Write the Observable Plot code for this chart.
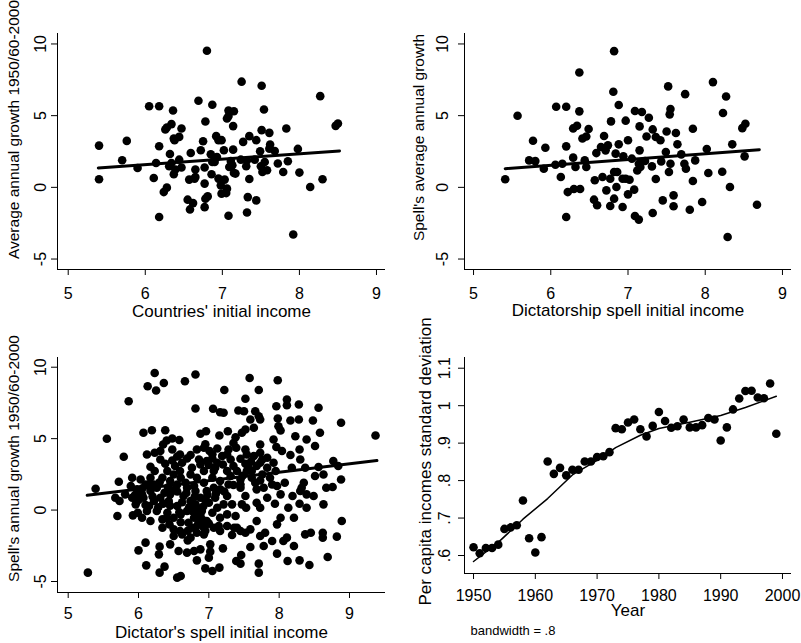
<!DOCTYPE html>
<html>
<head>
<meta charset="utf-8">
<script src="https://cdn.jsdelivr.net/npm/d3@7"></script>
<script src="https://cdn.jsdelivr.net/npm/@observablehq/plot@0.6"></script>
<style>
  body { margin: 0; background: #fff; }
  #chart { position: relative; width: 801px; height: 643px; background: #fff; overflow: hidden; }
  #chart svg { position: absolute; }
</style>
</head>
<body>
<div id="chart"></div>
<script>
const FONT = "'Liberation Sans', Arial, Helvetica, sans-serif";

// Countries: initial income (log) vs average annual growth
const countryPoints = [
  [6.80,9.53],[7.25,7.37],[7.51,7.09],[8.27,6.36],[6.05,5.66],[6.18,5.66],[6.36,5.36],[6.69,6.04],[6.87,5.76],[7.08,5.36],
  [7.15,5.31],[7.08,4.97],[7.54,5.43],[6.78,4.59],[7.14,4.27],[6.28,4.17],[6.34,4.41],[6.47,4.10],[7.51,3.99],[7.61,3.80],
  [7.83,4.10],[8.47,4.29],[8.50,4.45],[5.40,2.91],[5.76,3.24],[6.18,2.87],[6.38,3.29],[6.44,3.52],[6.75,3.22],[6.92,3.57],
  [6.99,3.29],[7.27,3.17],[7.35,3.57],[7.44,3.29],[7.62,2.98],[6.32,2.33],[6.59,2.40],[6.72,2.59],[6.85,2.31],[7.02,2.59],
  [7.14,2.63],[7.49,2.52],[7.68,2.54],[7.98,2.68],[5.70,1.89],[5.90,1.35],[6.14,1.70],[6.31,1.47],[6.44,1.93],[6.39,1.24],
  [6.37,0.91],[6.65,1.24],[6.77,1.38],[6.93,2.12],[6.90,1.77],[7.11,1.84],[7.09,1.42],[7.15,1.00],[7.31,1.47],[7.42,1.93],
  [7.55,1.77],[7.52,1.07],[7.58,1.19],[7.72,1.66],[7.79,1.07],[7.85,1.82],[8.00,1.03],[5.40,0.56],[6.11,0.65],[6.57,0.54],
  [6.65,0.72],[6.86,0.91],[6.95,0.61],[7.03,0.54],[6.77,0.26],[7.17,0.96],[7.35,0.58],[8.30,0.56],[8.14,0.02],[6.28,-0.02],
  [6.24,-0.33],[7.06,-0.09],[6.99,-0.44],[6.55,-0.86],[6.62,-1.10],[6.58,-1.54],[6.78,-0.79],[6.77,-1.38],[7.33,-0.68],[7.44,-0.91],
  [6.18,-2.07],[7.08,-1.98],[7.32,-1.75],[7.92,-3.29],[6.34,1.70],[6.47,1.38],[6.87,1.77],[7.13,1.54],[7.24,1.93],[7.50,1.47],
  [7.32,1.89],[6.98,0.14],[6.26,4.03],[6.37,3.40],[6.64,0.61],[7.05,-0.40],[6.81,-0.63],[7.61,2.70],[7.06,4.80],[6.95,3.29]
];
const countryFitX = [5.39, 8.52];
const countryFitY = [1.35, 2.54];

// Dictatorship spells: initial income vs spell's average annual growth
const spellPoints = [
  [6.82,9.50],[6.37,8.01],[6.81,6.67],[6.88,5.74],[7.52,7.04],[8.10,7.34],[8.27,6.34],[7.74,6.50],[5.57,4.99],[6.07,5.62],
  [6.20,5.62],[6.37,5.30],[6.78,4.60],[6.97,4.65],[7.09,5.32],[7.18,5.25],[7.27,4.85],[7.55,5.46],[7.54,5.09],[8.23,5.18],
  [6.29,4.11],[6.34,4.30],[6.49,4.07],[6.41,3.41],[6.46,3.55],[6.69,3.58],[7.15,4.25],[7.32,4.04],[7.24,3.55],[7.36,3.51],
  [7.42,3.28],[7.50,3.90],[7.62,3.79],[7.84,4.09],[8.48,4.13],[8.52,4.44],[5.77,3.25],[5.93,2.76],[6.20,2.86],[6.74,2.93],
  [6.88,3.00],[7.00,3.28],[8.35,3.00],[7.64,3.00],[5.72,1.88],[5.91,1.30],[6.06,1.58],[6.15,1.65],[6.29,2.07],[6.32,1.42],
  [6.44,1.88],[6.46,1.42],[6.59,2.39],[6.71,2.58],[6.84,2.35],[6.94,2.16],[7.05,2.00],[7.15,2.58],[7.14,1.65],[7.12,1.18],
  [7.31,1.46],[7.43,1.81],[7.49,2.46],[7.55,1.65],[7.53,1.07],[7.69,2.30],[7.73,1.65],[7.75,1.30],[7.87,1.88],[8.02,2.67],
  [8.04,1.00],[8.22,1.09],[8.51,2.16],[5.41,0.56],[6.13,0.72],[6.57,0.49],[6.67,0.72],[6.77,0.60],[6.86,1.07],[6.93,0.60],
  [7.02,0.53],[7.36,0.58],[7.84,0.44],[6.72,-0.21],[6.85,0.02],[7.08,-0.16],[6.22,-0.33],[6.30,-0.12],[6.38,-0.12],[7.00,-0.49],
  [7.59,-0.56],[6.56,-0.86],[6.60,-1.25],[6.77,-1.30],[6.82,-0.79],[6.93,-1.37],[7.45,-0.91],[7.59,-1.32],[7.96,-1.02],[7.80,-1.56],
  [8.67,-1.21],[6.20,-2.07],[7.09,-2.00],[7.14,-2.25],[7.32,-1.79],[8.29,-3.46],[8.32,0.02],[7.22,1.84],[6.97,0.60],[7.16,1.42],
  [6.65,2.81],[6.82,1.07],[5.80,1.83]
];
const spellFitX = [5.41, 8.70];
const spellFitY = [1.30, 2.63];

// Individual dictators' spells: initial income vs annual growth
const dictatorPoints = [
  [6.23,9.60],[6.81,9.49],[6.13,8.67],[6.25,8.37],[6.36,8.90],[6.66,9.02],[7.58,9.25],[7.98,9.09],[7.22,8.41],[7.71,8.41],
  [5.86,7.62],[7.52,7.79],[8.11,7.74],[8.11,7.34],[7.96,7.27],[8.28,7.39],[8.56,7.16],[6.81,7.11],[7.06,7.09],[7.16,6.85],
  [7.21,6.81],[7.42,6.97],[7.50,6.92],[7.66,6.92],[7.71,6.57],[7.73,6.34],[7.59,6.34],[7.98,6.41],[8.16,6.27],[8.28,6.34],
  [8.48,6.27],[8.88,6.11],[7.99,5.87],[8.02,5.57],[7.52,5.64],[7.64,5.76],[7.47,5.41],[8.58,5.41],[8.23,5.17],[6.07,5.41],
  [6.19,5.59],[6.38,5.59],[5.55,4.99],[6.88,5.34],[6.96,5.52],[7.15,5.22],[7.27,5.52],[7.38,5.10],[6.48,5.01],[6.58,4.90],
  [6.40,4.87],[6.35,4.59],[7.92,4.94],[8.39,4.94],[8.51,4.48],[7.73,4.59],[7.96,4.41],[9.37,5.22],[6.12,3.89],[6.23,4.01],
  [6.31,4.13],[6.48,4.24],[6.83,4.24],[6.93,4.36],[7.01,4.13],[7.12,4.31],[7.28,4.24],[7.39,4.36],[7.52,4.24],[7.73,4.01],
  [8.04,4.13],[8.16,3.85],[8.29,4.24],[5.79,3.73],[6.69,3.61],[6.86,3.54],[7.05,3.61],[7.19,3.78],[7.31,3.54],[7.45,3.59],
  [7.64,3.78],[7.76,3.54],[8.30,3.54],[6.48,3.47],[6.17,3.03],[6.23,2.73],[6.38,3.24],[6.52,3.08],[6.59,2.73],[6.76,2.96],
  [6.88,3.19],[7.00,3.15],[7.09,2.96],[7.20,3.19],[7.35,3.08],[7.52,3.24],[7.68,3.08],[7.83,2.96],[7.95,2.73],[8.18,2.96],
  [8.37,2.96],[8.56,3.01],[8.77,3.43],[8.84,3.08],[8.63,2.49],[8.51,2.38],[8.88,2.14],[5.91,2.26],[6.03,2.14],[6.10,1.79],
  [5.72,1.98],[5.39,1.49],[6.34,2.26],[6.45,2.03],[6.60,2.26],[6.74,2.49],[6.83,2.26],[6.93,1.91],[7.05,2.26],[7.16,2.03],
  [7.31,2.38],[7.45,2.14],[7.45,1.79],[7.61,2.26],[7.73,2.07],[7.87,2.26],[7.90,1.79],[8.08,1.91],[8.35,1.91],[8.67,1.56],
  [8.76,1.61],[8.32,1.56],[5.89,1.68],[5.73,0.63],[5.70,-0.42],[5.91,0.86],[5.92,-0.37],[5.99,-0.19],[6.05,1.10],[6.15,0.28],
  [6.17,1.33],[6.26,1.56],[6.31,0.86],[6.37,1.21],[6.43,0.63],[6.52,1.45],[6.55,0.28],[6.64,0.98],[6.69,1.56],[6.74,0.63],
  [6.81,1.33],[6.83,0.16],[6.88,0.86],[6.97,1.33],[7.00,0.51],[7.09,0.86],[7.16,1.45],[7.26,0.98],[7.33,0.40],[7.45,1.56],
  [7.52,0.98],[7.53,0.16],[7.68,1.45],[7.68,0.51],[7.73,0.16],[7.83,0.86],[7.94,0.44],[8.02,1.10],[8.13,0.16],[8.19,0.98],
  [8.29,0.44],[8.30,1.33],[8.63,0.40],[6.34,-0.65],[6.44,-1.00],[6.50,-1.35],[6.59,-1.47],[6.71,-0.89],[6.83,-0.42],[6.83,-1.59],
  [6.88,-1.00],[6.97,-0.77],[7.14,-1.12],[7.26,-1.12],[7.40,-1.24],[7.45,-1.47],[7.33,-1.75],[7.59,-1.35],[7.68,-0.77],[7.80,-1.59],
  [7.97,-1.00],[7.90,-2.17],[8.11,-1.93],[8.06,-2.17],[8.45,-1.59],[8.62,-1.59],[8.62,-1.93],[8.82,-1.86],[8.89,-0.77],[6.70,-2.12],
  [6.10,-2.28],[6.00,-2.82],[6.30,-2.56],[6.29,-3.10],[6.45,-2.40],[6.57,-2.87],[6.69,-2.98],[6.79,-2.87],[6.88,-2.75],[7.02,-2.40],
  [7.02,-2.91],[7.20,-2.68],[7.59,-2.59],[6.83,-3.52],[7.00,-3.33],[7.39,-3.57],[7.46,-3.15],[7.97,-3.05],[8.12,-3.57],[8.29,-3.52],
  [8.43,-3.85],[8.69,-3.29],[7.71,-3.75],[7.71,-4.38],[6.11,-3.87],[6.30,-4.38],[6.37,-3.96],[6.55,-4.73],[6.60,-4.62],[6.95,-4.08],
  [7.05,-4.27],[7.15,-4.03],[7.45,-3.75],[5.28,-4.38],[6.76,-0.07],[6.79,-0.54],[6.86,-0.89],[6.90,-0.07],[6.93,-1.24],[6.76,-1.24],
  [6.81,0.40],[6.69,-0.07],[6.60,-0.30],[7.05,-0.19],[7.12,0.16],[7.21,0.40],[7.26,-0.30],[7.38,-0.42],[7.47,0.40],[7.16,-0.54],
  [6.45,1.10],[6.22,0.63],[6.12,-0.07],[6.26,-0.07],[6.41,-0.19],[6.50,-0.54],[6.07,0.86],[5.98,1.45],[7.07,1.56],[7.07,2.73],
  [6.93,2.73],[7.26,2.73],[7.40,2.73],[7.54,2.73],[7.61,2.73],[7.76,2.49],[7.66,1.91],[7.78,1.56],[7.97,1.68],[7.28,1.79],
  [6.55,1.79],[6.67,1.91],[6.79,1.68],[6.97,3.43],[7.12,3.31],[7.26,3.89],[7.54,3.89],[7.73,3.31],[7.83,3.66],[7.92,3.31],
  [6.59,3.89],[6.62,3.31],[6.31,3.54],[6.41,2.73],[6.50,2.49],[6.17,2.26],[6.22,1.79],[5.81,1.10],[5.67,0.86],[5.96,0.40],
  [6.05,-0.54],[6.17,-0.77],[6.34,-1.24],[6.50,-1.82],[6.62,-1.70],[6.74,-1.93],[6.93,-1.70],[7.07,-1.24],[7.16,-1.47],[7.36,-1.24],
  [7.52,-1.59],[7.73,-1.82],[8.21,-2.52],[8.37,-1.70],[7.78,-2.52],[8.02,-0.54],[8.21,-0.54],[8.39,0.16],[8.49,0.98],[8.39,1.10],
  [6.85,0.05],[6.88,-0.35],[6.90,-0.65],[6.84,-1.05],[6.92,0.25],[6.95,0.70],[6.80,0.95],[6.72,0.20],[6.62,0.55],[6.58,-0.15],
  [6.45,0.30],[6.35,0.45],[6.28,0.20],[6.20,0.95],[6.10,0.35],[6.00,0.70],[5.95,1.05],[6.05,1.50],[6.15,1.80],[6.30,1.95],
  [6.42,1.60],[6.55,1.30],[6.68,1.20],[6.98,1.05],[7.10,1.15],[7.22,1.30],[7.35,1.75],[7.48,2.40],[7.56,3.05],[7.60,3.40],
  [7.05,3.90],[6.95,4.60],[7.35,4.70],[6.74,3.85],[6.55,3.75],[6.70,-1.45],[6.95,-1.45],[7.00,-0.95],[6.60,-0.85],[6.40,-0.55]
];
const dictatorFitX = [5.27, 9.39];
const dictatorFitY = [1.03, 3.47];

// Cross-country dispersion of per capita incomes by year
const years = [
  1950,1951,1952,1953,1954,1955,1956,1957,1958,1959,
  1960,1961,1962,1963,1964,1965,1966,1967,1968,1969,
  1970,1971,1972,1973,1974,1975,1976,1977,1978,1979,
  1980,1981,1982,1983,1984,1985,1986,1987,1988,1989,
  1990,1991,1992,1993,1994,1995,1996,1997,1998,1999
];
const incomeSD = [
  0.622,0.606,0.620,0.620,0.629,0.671,0.675,0.681,0.747,0.646,
  0.608,0.649,0.851,0.818,0.834,0.814,0.829,0.829,0.851,0.851,
  0.863,0.865,0.876,0.940,0.937,0.955,0.963,0.937,0.918,0.946,
  0.983,0.959,0.941,0.945,0.963,0.942,0.942,0.948,0.967,0.963,
  0.907,0.942,0.990,1.019,1.039,1.040,1.022,1.020,1.059,0.925
];
// Lowess smooth (bandwidth .8)
const lowessYears = [1950,1954,1958,1962,1966,1970,1973,1977,1980,1985,1990,1994,1999];
const lowessSD    = [0.584,0.635,0.697,0.752,0.815,0.854,0.888,0.921,0.939,0.956,0.974,0.995,1.025];

// Ticks
const growthTicks = [-5, 0, 5, 10];
const growthTickLabels = ["-5", "0", "5", "10"];
const incomeTicks = [5, 6, 7, 8, 9];
const incomeTickLabels = ["5", "6", "7", "8", "9"];
const yearTicks = [1950, 1960, 1970, 1980, 1990, 2000];
const yearTickLabels = ["1950", "1960", "1970", "1980", "1990", "2000"];
const sdTicks = [0.6, 0.7, 0.8, 0.9, 1.0, 1.1];
const sdTickLabels = [".6", ".7", ".8", ".9", "1", "1.1"];

function panel(o) {
  const [mt, mr, mb, ml] = o.margin;
  const marks = [
    ...o.marks,
    Plot.ruleX([o.xDomain[0]], {stroke: "black", strokeWidth: 1}),
    Plot.ruleY([o.yDomain[0]], {stroke: "black", strokeWidth: 1}),
    Plot.axisX(o.xTicks, {tickSize: 6, tickFormat: () => "", label: null}),
    Plot.axisY(o.yTicks, {tickSize: 6, tickFormat: () => "", label: null}),
    Plot.text(o.xTicks, {
      x: d => d, text: (d, i) => o.xTickText[i],
      frameAnchor: "bottom", lineAnchor: "bottom", dy: o.xLabelDy, fontSize: 16
    }),
    Plot.text(o.yTicks, {
      y: d => d, text: (d, i) => o.yTickText[i],
      frameAnchor: "left", rotate: -90, textAnchor: "middle", lineAnchor: "bottom",
      dx: o.yLabelDx, fontSize: 16
    }),
    Plot.text([o.xTitle], {
      text: d => d, frameAnchor: "bottom", lineAnchor: "bottom", dy: o.xTitleDy, fontSize: 17
    }),
    Plot.text([o.yTitle], {
      text: d => d, frameAnchor: "left", rotate: -90, textAnchor: "middle", lineAnchor: "bottom",
      dx: o.yTitleDx, dy: o.yTitleDy, fontSize: o.yTitleSize
    }),
    ...(o.extra || [])
  ];
  const svg = Plot.plot({
    width: o.width, height: o.height,
    marginTop: mt, marginRight: mr, marginBottom: mb, marginLeft: ml,
    style: {fontFamily: FONT, overflow: "visible", background: "transparent", color: "black"},
    x: {domain: o.xDomain},
    y: {domain: o.yDomain},
    marks
  });
  svg.style.left = o.left + "px";
  svg.style.top = o.top + "px";
  return svg;
}

function scatterMarks(points, fitX, fitY) {
  return [
    Plot.dot(points, {x: d => d[0], y: d => d[1], r: 4.3, fill: "black"}),
    Plot.line(fitX, {x: d => d, y: (d, i) => fitY[i], stroke: "black", strokeWidth: 3})
  ];
}

const chart = document.getElementById("chart");

chart.appendChild(panel({
  left: 0, top: 0, width: 400, height: 321, margin: [33, 15, 52, 57],
  xDomain: [4.861, 9.117], yDomain: [-5.73, 10.73],
  xTicks: incomeTicks, xTickText: incomeTickLabels,
  yTicks: growthTicks, yTickText: growthTickLabels,
  xTitle: "Countries' initial income",
  yTitle: "Average annual growth 1950/60-2000",
  xLabelDy: 29, xTitleDy: 47, yLabelDx: -12, yTitleDx: -39, yTitleDy: -22, yTitleSize: 15.5,
  marks: scatterMarks(countryPoints, countryFitX, countryFitY)
}));

chart.appendChild(panel({
  left: 400, top: 0, width: 401, height: 321, margin: [33, 10, 52, 64],
  xDomain: [4.883, 9.117], yDomain: [-5.73, 10.73],
  xTicks: incomeTicks, xTickText: incomeTickLabels,
  yTicks: growthTicks, yTickText: growthTickLabels,
  xTitle: "Dictatorship spell initial income",
  yTitle: "Spell's average annual growth",
  xLabelDy: 29, xTitleDy: 46.5, yLabelDx: -17, yTitleDx: -41, yTitleDy: -14, yTitleSize: 15.5,
  marks: scatterMarks(spellPoints, spellFitX, spellFitY)
}));

chart.appendChild(panel({
  left: 0, top: 321, width: 400, height: 322, margin: [36, 15, 51, 57],
  xDomain: [4.848, 9.512], yDomain: [-5.77, 10.68],
  xTicks: incomeTicks, xTickText: incomeTickLabels,
  yTicks: growthTicks, yTickText: growthTickLabels,
  xTitle: "Dictator's spell initial income",
  yTitle: "Spell's annual growth 1950/60-2000",
  xLabelDy: 26.5, xTitleDy: 45.5, yLabelDx: -12, yTitleDx: -39, yTitleDy: -16.5, yTitleSize: 15.5,
  marks: scatterMarks(dictatorPoints, dictatorFitX, dictatorFitY)
}));

chart.appendChild(panel({
  left: 400, top: 321, width: 401, height: 322, margin: [36, 10, 70, 64],
  xDomain: [1948.54, 2001.46], yDomain: [0.552, 1.1286],
  xTicks: yearTicks, xTickText: yearTickLabels,
  yTicks: sdTicks, yTickText: sdTickLabels,
  xTitle: "Year",
  yTitle: "Per capita incomes standard deviation",
  xLabelDy: 27, xTitleDy: 42, yLabelDx: -15, yTitleDx: -34, yTitleDy: -4, yTitleSize: 17,
  marks: [
    Plot.dot(years, {x: d => d, y: (d, i) => incomeSD[i], r: 4.3, fill: "black"}),
    Plot.line(lowessYears, {x: d => d, y: (d, i) => lowessSD[i], stroke: "black", strokeWidth: 1.5})
  ],
  extra: [
    Plot.text(["bandwidth = .8"], {
      text: d => d, frameAnchor: "bottom-left", textAnchor: "start", lineAnchor: "bottom",
      dx: 6, dy: 61, fontSize: 13
    })
  ]
}));
</script>
</body>
</html>
